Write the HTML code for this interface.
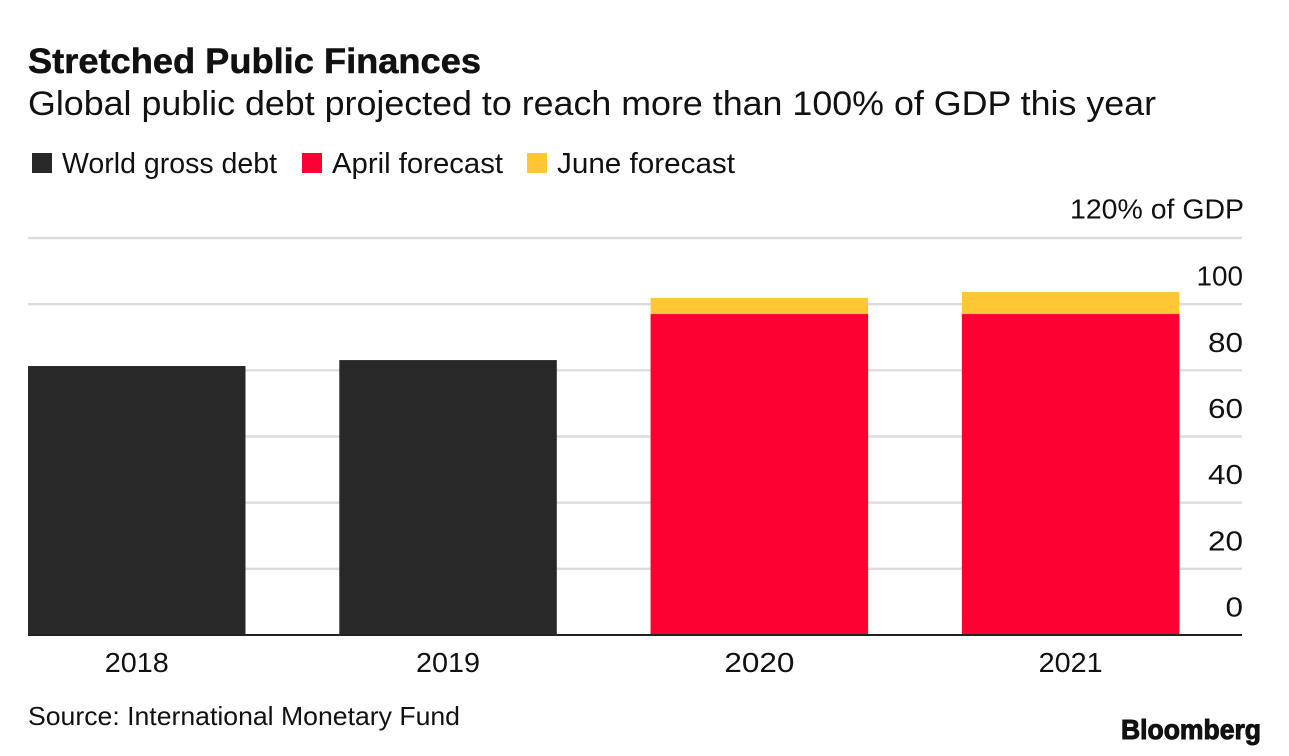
<!DOCTYPE html>
<html lang="en">
<head>
<meta charset="utf-8">
<title>Stretched Public Finances</title>
<style>
  html, body { margin: 0; padding: 0; background: #fff; }
  body { width: 1289px; height: 756px; overflow: hidden; }
  svg { display: block; font-family: "Liberation Sans", Arial, sans-serif; }
  text { fill: #111; }
</style>
</head>
<body>
<svg id="chart" xmlns="http://www.w3.org/2000/svg" width="1289" height="756" viewBox="0 0 1289 756">
  <rect x="0" y="0" width="1289" height="756" fill="#ffffff"/>
  <text x="28" y="73" font-size="35" font-weight="700" stroke="#111" stroke-width="0.5" textLength="453" lengthAdjust="spacingAndGlyphs">Stretched Public Finances</text>
  <text x="28" y="115" font-size="34" textLength="1128" lengthAdjust="spacingAndGlyphs">Global public debt projected to reach more than 100% of GDP this year</text>

  <g>
    <g>
      <rect x="32" y="153" width="20" height="20" fill="#282828"/>
      <text x="62" y="173" font-size="29" textLength="215" lengthAdjust="spacingAndGlyphs">World gross debt</text>
    </g>
    <g>
      <rect x="302" y="153" width="20" height="20" fill="#ff0033"/>
      <text x="332" y="173" font-size="29" textLength="171" lengthAdjust="spacingAndGlyphs">April forecast</text>
    </g>
    <g>
      <rect x="527" y="153" width="20" height="20" fill="#ffc636"/>
      <text x="557" y="173" font-size="29" textLength="178" lengthAdjust="spacingAndGlyphs">June forecast</text>
    </g>
  </g>

  <g id="grid"></g>
  <g id="bars"></g>
  <g id="axis"></g>

  <text x="28" y="725" font-size="26" textLength="432" lengthAdjust="spacingAndGlyphs">Source: International Monetary Fund</text>
  <text x="1121" y="739" font-size="28" font-weight="700" textLength="140" lengthAdjust="spacingAndGlyphs" stroke="#111" stroke-width="1">Bloomberg</text>
</svg>

<script>
const categories = ['2018', '2019', '2020', '2021'];
const worldDebt = [81.3, 83.1, 0, 0];
const aprilForecast = [0, 0, 97, 97];
const juneForecast = [0, 0, 101.9, 103.7];
const gridValues = [20, 40, 60, 80, 100, 120];
const tickValues = [0, 20, 40, 60, 80, 100];
const topTickLabel = '120% of GDP';

const svgNS = 'http://www.w3.org/2000/svg';
const plotLeft = 28, plotRight = 1242, plotBottom = 635, plotTop = 238;
const bandStep = 311.3, barWidth = 217.5;

function yScale(v) { return plotBottom - (v / 120) * (plotBottom - plotTop); }
function xScale(i) { return plotLeft + i * bandStep; }
function digitsWidth(s) {
  let w = 0;
  for (const c of s) w += (c === '1') ? 11.5 : 17.5;
  return w;
}

function make(tag, attrs, parent) {
  const el = document.createElementNS(svgNS, tag);
  for (const k in attrs) el.setAttribute(k, attrs[k]);
  parent.appendChild(el);
  return el;
}

const gridGroup = document.getElementById('grid');
const barsGroup = document.getElementById('bars');
const axisGroup = document.getElementById('axis');

gridValues.forEach(function (v) {
  const line = make('line', { x1: plotLeft, x2: plotRight, y1: yScale(v), y2: yScale(v), stroke: '#dcdcdc', 'stroke-width': 2.4 }, gridGroup);
  
  
});

categories.forEach(function (cat, i) {
  const x = xScale(i);
  if (worldDebt[i] > 0) {
    const top = yScale(worldDebt[i]);
    const bar = make('rect', { x: x, y: top, width: barWidth, height: plotBottom - top, fill: '#282828' }, barsGroup);
    
    
  }
  if (juneForecast[i] > 0) {
    const top = yScale(juneForecast[i]);
    const bar = make('rect', { x: x, y: top, width: barWidth, height: plotBottom - top, fill: '#ffc636' }, barsGroup);
    
    
  }
  if (aprilForecast[i] > 0) {
    const top = yScale(aprilForecast[i]);
    const bar = make('rect', { x: x, y: top, width: barWidth, height: plotBottom - top, fill: '#ff0033' }, barsGroup);
    
    
  }
  const label = make('text', { x: x + barWidth / 2, y: 672, 'font-size': 28, 'text-anchor': 'middle', textLength: digitsWidth(cat), lengthAdjust: 'spacingAndGlyphs' }, axisGroup);
  label.textContent = cat;
  
  
});

const baseline = make('line', { x1: plotLeft, x2: plotRight, y1: plotBottom, y2: plotBottom, stroke: '#222222', 'stroke-width': 2 }, axisGroup);



tickValues.forEach(function (v) {
  const t = make('text', { x: 1243, y: yScale(v) - 18.5, 'font-size': 28, 'text-anchor': 'end', textLength: digitsWidth(String(v)), lengthAdjust: 'spacingAndGlyphs' }, axisGroup);
  t.textContent = String(v);
  
  
});

const topLabel = make('text', { x: 1244, y: yScale(120) - 19.5, 'font-size': 28, 'text-anchor': 'end', textLength: 174, lengthAdjust: 'spacingAndGlyphs' }, axisGroup);
topLabel.textContent = topTickLabel;


</script>
</body>
</html>
